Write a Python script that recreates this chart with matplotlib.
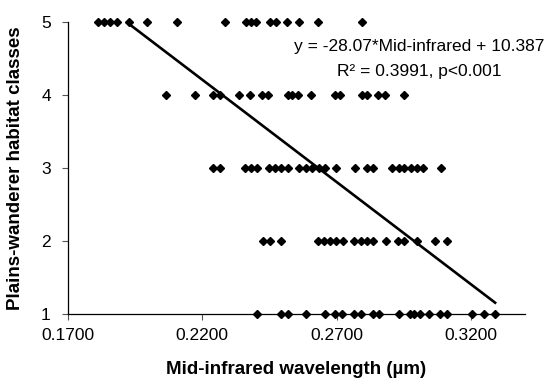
import numpy as np
import matplotlib
matplotlib.use("Agg")
import matplotlib.pyplot as plt

plt.rcParams['font.family'] = ['Liberation Sans', 'DejaVu Sans']

# mid-infrared values per habitat class
class5 = [0.1813, 0.1836, 0.1858, 0.1883, 0.1928, 0.1994, 0.2106, 0.2286, 0.2362,
          0.2381, 0.2400, 0.2454, 0.2474, 0.2517, 0.2562, 0.2629, 0.2794]
class4 = [0.2065, 0.2174, 0.2242, 0.2267, 0.2339, 0.2378, 0.2422, 0.2444, 0.2518,
          0.2536, 0.2555, 0.2605, 0.2694, 0.2713, 0.2794, 0.2812, 0.2855, 0.2880,
          0.2951]
class3 = [0.2240, 0.2267, 0.2360, 0.2381, 0.2403, 0.2447, 0.2471, 0.2495, 0.2518,
          0.2562, 0.2585, 0.2610, 0.2634, 0.2657, 0.2698, 0.2769, 0.2812, 0.2835,
          0.2905, 0.2930, 0.2952, 0.2976, 0.2998, 0.3020, 0.3089]
class2 = [0.2427, 0.2451, 0.2494, 0.2630, 0.2654, 0.2676, 0.2698, 0.2722, 0.2766,
          0.2790, 0.2812, 0.2835, 0.2884, 0.2928, 0.2951, 0.2998, 0.3064, 0.3110]
class1 = [0.2404, 0.2492, 0.2519, 0.2587, 0.2657, 0.2694, 0.2720, 0.2766, 0.2791,
          0.2835, 0.2859, 0.2932, 0.2971, 0.2989, 0.3010, 0.3044, 0.3086, 0.3110,
          0.3204, 0.3247, 0.3289]

slope = -28.07
intercept = 10.387
fit_x = [0.1928, 0.3289]

xticks = [0.17, 0.22, 0.27, 0.32]
yticks = [1, 2, 3, 4, 5]

fig = plt.figure(figsize=(5.52, 3.84), dpi=100)
ax = fig.add_axes([67.5 / 552, 1 - 314 / 384, (525 - 67.5) / 552, (314 - 22) / 384])

for cls, xs in zip([5, 4, 3, 2, 1], [class5, class4, class3, class2, class1]):
    ax.plot(xs, [cls] * len(xs), linestyle='none', marker='D', markersize=4.3,
            color='black', clip_on=False, zorder=3)

fx = np.array(fit_x)
ax.plot(fx, slope * fx + intercept, color='black', linewidth=1.9, clip_on=False, zorder=4)

ax.set_xlim(0.17, 0.34)
ax.set_ylim(1, 5)
ax.set_xticks(xticks)
ax.set_xticklabels([f'{v:.4f}' for v in xticks])
ax.set_yticks(yticks)
ax.tick_params(axis='both', direction='out', length=4, width=0.8, labelsize=12.5, color='#555555')
ax.tick_params(axis='x', pad=6)
ax.tick_params(axis='y', pad=8)

for side in ['top', 'right']:
    ax.spines[side].set_visible(False)
for side in ['left', 'bottom']:
    ax.spines[side].set_linewidth(0.9)

ax.set_xlabel('Mid-infrared wavelength (µm)', fontsize=13.5, fontweight='bold', labelpad=13)
ax.set_ylabel('Plains-wanderer habitat classes', fontsize=13.5, fontweight='bold', labelpad=12)

ax.text(0.3007, 4.66, 'y = -28.07*Mid-infrared + 10.387', ha='center', va='center', fontsize=12.5)
ax.text(0.3007, 4.32, 'R² = 0.3991, p<0.001', ha='center', va='center', fontsize=12.5)

fig.savefig('out.png', dpi=100)
